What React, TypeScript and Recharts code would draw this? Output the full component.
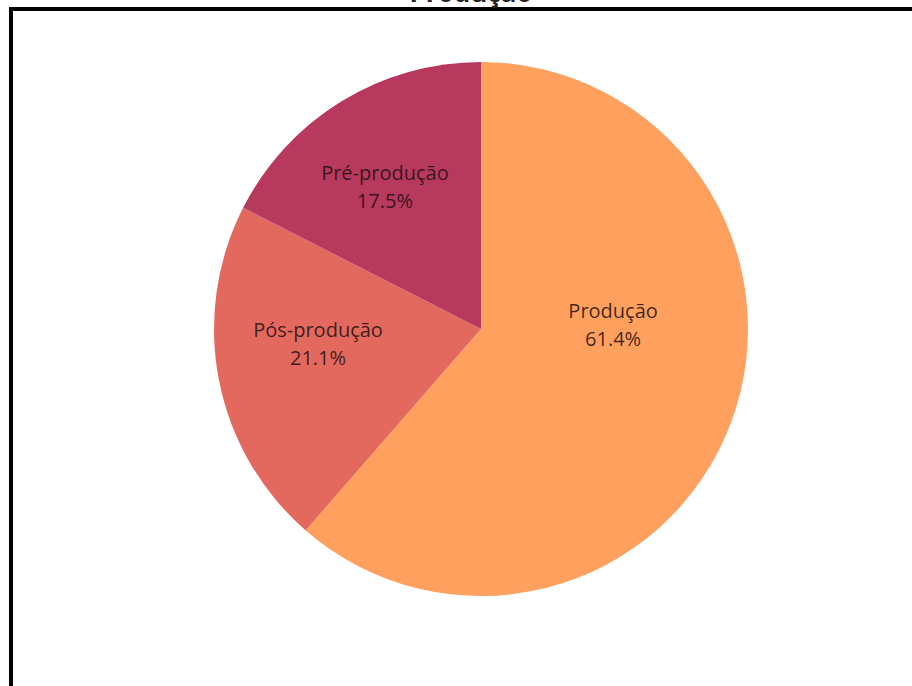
import { PieChart, Pie, Cell } from 'recharts'

const STAGES = ['Produção', 'Pós-produção', 'Pré-produção']
const SHARES = [61.4, 21.1, 17.5]
const COLORS = ['#ffa05f', '#e3695f', '#b8395e']
const TITLE = 'Produção'

// plotly-style inside text is not exactly on the mid angle
const LABEL_NUDGE: Record<string, { angle: number; r: number }> = {
  'Produção': { angle: 22.2, r: 0.495 },
  'Pós-produção': { angle: -5.7, r: 0.613 },
  'Pré-produção': { angle: 2.6, r: 0.642 },
}

const chartData = STAGES.map((name, i) => ({ name, value: SHARES[i] }))
const total = SHARES.reduce((s, v) => s + v, 0)

const RAD = Math.PI / 180

function renderLabel(props: any) {
  const { cx, cy, midAngle, outerRadius, name, value } = props
  const nudge = LABEL_NUDGE[name] || { angle: 0, r: 0.6 }
  const a = (midAngle + nudge.angle) * RAD
  const r = outerRadius * nudge.r
  const x = cx + r * Math.cos(a)
  const y = cy - r * Math.sin(a)
  const pct = ((value / total) * 100).toFixed(1)
  return (
    <text
      x={x}
      y={y}
      textAnchor="middle"
      fill="rgba(30,15,15,0.85)"
      fontFamily="'Open Sans', sans-serif"
      fontSize={20}
    >
      <tspan x={x} y={y - 7}>{name}</tspan>
      <tspan x={x} y={y + 21}>{pct}%</tspan>
    </text>
  )
}

export default function App() {
  return (
    <div style={{ position: 'fixed', left: 0, top: 0, width: 912, height: 686, overflow: 'hidden', background: '#fff' }}>
      <svg width={912} height={686} style={{ position: 'absolute', left: 0, top: 0 }}>
        <rect x={11} y={9} width={2000} height={2000} fill="none" stroke="#000" strokeWidth={4} />
        <text
          x={471}
          y={2}
          textAnchor="middle"
          fontFamily="'Open Sans', sans-serif"
          fontWeight="bold"
          fontSize={26}
          fill="#222"
        >
          {TITLE}
        </text>
      </svg>
      <div style={{ position: 'absolute', left: 0, top: 0 }}>
        <PieChart width={912} height={686} margin={{ top: 0, right: 0, bottom: 0, left: 0 }}>
          <Pie
            data={chartData}
            dataKey="value"
            nameKey="name"
            cx={481}
            cy={329}
            outerRadius={267}
            startAngle={90}
            endAngle={-270}
            stroke="none"
            labelLine={false}
            label={renderLabel}
            isAnimationActive={false}
          >
            {chartData.map((entry, i) => (
              <Cell key={`cell-${i}`} fill={COLORS[i % COLORS.length]} />
            ))}
          </Pie>
        </PieChart>
      </div>
    </div>
  )
}
